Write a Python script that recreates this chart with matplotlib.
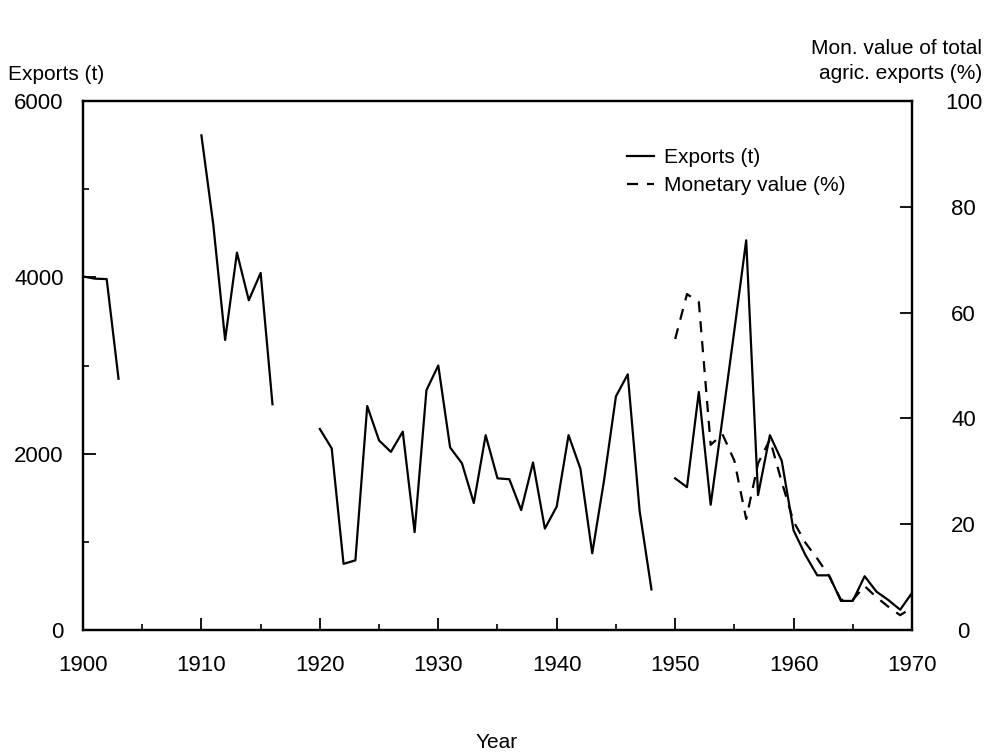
import numpy as np
import matplotlib.pyplot as plt
from matplotlib.ticker import MultipleLocator

plt.rcParams['font.family'] = ['Liberation Sans', 'DejaVu Sans']

nan = np.nan
years = list(range(1900, 1971))

# exports in tonnes (gaps = no data)
exports = [4010, 3985, 3980, 2850,
           nan, nan, nan, nan, nan, nan,
           5610, 4600, 3290, 4280, 3740, 4050, 2560,
           nan, nan, nan,
           2280, 2060, 750, 790, 2540, 2150, 2020, 2250, 1110, 2720,
           3000, 2070, 1890, 1440, 2210, 1720, 1710, 1360, 1900, 1150,
           1400, 2210, 1830, 870, 1700, 2650, 2900, 1350, 460,
           nan,
           1720, 1620, 2700, 1420, 2400, 3400, 4420, 1530, 2210, 1920,
           1130, 850, 620, 620, 330, 330, 610, 435, 340, 230, 420]

# share of monetary value of total agricultural exports (%)
mon_years = list(range(1950, 1971))
mon_value = [55, 63.5, 62, 35, 37, 32, 21, 31.5, 36, 28,
             20.5, 16.5, 13.5, 10.2, 5.7, 5.7, 8.3, 6.2, 4.4, 2.8, 4.2]

fig = plt.figure(figsize=(9.89, 7.52), dpi=100)
ax = fig.add_axes([83/989, 1 - 630/752, (912-83)/989, (630-101)/752])
ax2 = ax.twinx()

l1, = ax.plot(years, exports, color='black', lw=1.6, label='Exports (t)')
l2, = ax2.plot(mon_years, mon_value, color='black', lw=1.6,
               dashes=(5, 4), label='Monetary value (%)')

ax.set_xlim(1900, 1970)
ax.set_ylim(0, 6000)
ax2.set_ylim(0, 100)

ax.set_xticks(range(1900, 1971, 10))
ax.xaxis.set_minor_locator(MultipleLocator(5))
ax.set_yticks([0, 2000, 4000, 6000])
ax.yaxis.set_minor_locator(MultipleLocator(1000))
ax2.set_yticks(range(0, 101, 20))

ax.tick_params(axis='x', which='major', direction='in', length=9, width=1.3,
               pad=18, labelsize=16)
ax.tick_params(axis='x', which='minor', direction='in', length=4.5, width=1.2)
ax.tick_params(axis='y', which='major', direction='in', length=9, width=1.3,
               pad=14, labelsize=16)
ax.tick_params(axis='y', which='minor', direction='in', length=4.5, width=1.2)
ax2.tick_params(axis='y', which='major', direction='in', length=9, width=1.3,
                pad=37, labelsize=16)
for lab in ax2.get_yticklabels():
    lab.set_horizontalalignment('center')

for a in (ax, ax2):
    for s in a.spines.values():
        s.set_linewidth(1.6)

fig.text(8/989, 1 - 74/752, 'Exports (t)', fontsize=15, ha='left', va='center')
fig.text(982/989, 1 - 61/752, 'Mon. value of total\nagric. exports (%)',
         fontsize=15, ha='right', va='center', linespacing=1.45)
fig.text(497/989, 1 - 742/752, 'Year', fontsize=15, ha='center', va='center')

ax.legend(handles=[l1, l2], loc='upper left', bbox_to_anchor=(0.646, 0.927),
          frameon=False, fontsize=15, handlelength=1.3, handletextpad=0.5,
          labelspacing=0.45, borderaxespad=0)

fig.savefig('out.png', dpi=100)
